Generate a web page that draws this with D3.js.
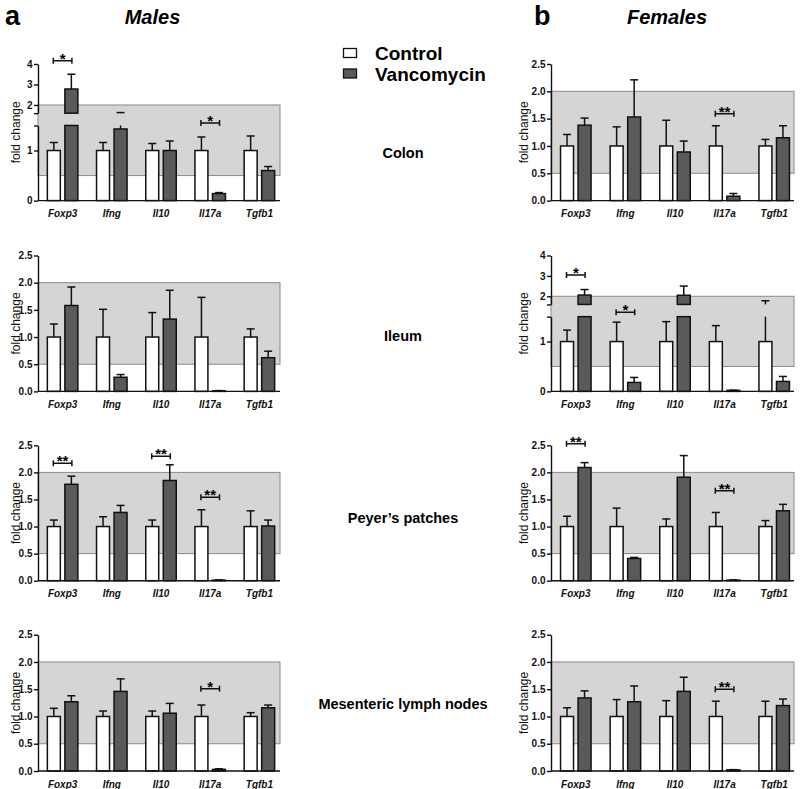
<!DOCTYPE html>
<html>
<head>
<meta charset="utf-8">
<script src="https://cdn.jsdelivr.net/npm/d3@7/dist/d3.min.js"></script>
<style>
  html, body { margin: 0; padding: 0; background: #fff; }
  svg { display: block; font-family: "Liberation Sans", Arial, sans-serif; }
</style>
</head>
<body>
<svg id="chart" width="800" height="789"></svg>
<script>
// ---------------- DATA ----------------
const genes = ["Foxp3", "Ifng", "Il10", "Il17a", "Tgfb1"];
const groups = ["Control", "Vancomycin"];
const sites = ["Colon", "Ileum", "Peyer\u2019s patches", "Mesenteric lymph nodes"];
const normalTicks = [0, 0.5, 1.0, 1.5, 2.0, 2.5];
const brokenLowerTicks = [0, 1];
const brokenUpperTicks = [2, 3, 4];

// Males
const maleColonControl    = [1, 1, 1, 1, 1];
const maleColonControlErr = [1.16, 1.16, 1.14, 1.27, 1.29];
const maleColonVanco      = [2.78, 1.43, 1.00, 0.14, 0.60];
const maleColonVancoErr   = [3.50, 1.63, 1.19, 0.16, 0.68];
const maleColonSig        = [["Foxp3", "*", 4.16], ["Il17a", "*", 1.52]];

const maleIleumControl    = [1, 1, 1, 1, 1];
const maleIleumControlErr = [1.24, 1.51, 1.45, 1.73, 1.15];
const maleIleumVanco      = [1.58, 0.26, 1.33, 0.01, 0.62];
const maleIleumVancoErr   = [1.92, 0.31, 1.86, 0.015, 0.74];
const maleIleumSig        = [];

const malePeyerControl    = [1, 1, 1, 1, 1];
const malePeyerControlErr = [1.12, 1.18, 1.12, 1.31, 1.29];
const malePeyerVanco      = [1.78, 1.26, 1.85, 0.01, 1.01];
const malePeyerVancoErr   = [1.93, 1.39, 2.14, 0.015, 1.12];
const malePeyerSig        = [["Foxp3", "**", 2.17], ["Il10", "**", 2.30], ["Il17a", "**", 1.54]];

const maleMlnControl      = [1, 1, 1, 1, 1];
const maleMlnControlErr   = [1.15, 1.10, 1.10, 1.21, 1.07];
const maleMlnVanco        = [1.27, 1.46, 1.06, 0.03, 1.16];
const maleMlnVancoErr     = [1.38, 1.69, 1.24, 0.04, 1.21];
const maleMlnSig          = [["Il17a", "*", 1.51]];

// Females
const femaleColonControl    = [1, 1, 1, 1, 1];
const femaleColonControlErr = [1.21, 1.35, 1.47, 1.37, 1.12];
const femaleColonVanco      = [1.38, 1.53, 0.89, 0.08, 1.15];
const femaleColonVancoErr   = [1.51, 2.21, 1.09, 0.13, 1.37];
const femaleColonSig        = [["Il17a", "**", 1.59]];

const femaleIleumControl    = [1, 1, 1, 1, 1];
const femaleIleumControlErr = [1.23, 1.39, 1.40, 1.32, 1.78];
const femaleIleumVanco      = [2.06, 0.18, 2.05, 0.02, 0.20];
const femaleIleumVancoErr   = [2.33, 0.28, 2.50, 0.025, 0.30];
const femaleIleumSig        = [["Foxp3", "*", 3.04], ["Ifng", "*", 1.535]];

const femalePeyerControl    = [1, 1, 1, 1, 1];
const femalePeyerControlErr = [1.19, 1.34, 1.14, 1.26, 1.11];
const femalePeyerVanco      = [2.09, 0.41, 1.91, 0.01, 1.29];
const femalePeyerVancoErr   = [2.18, 0.43, 2.31, 0.015, 1.41];
const femalePeyerSig        = [["Foxp3", "**", 2.53], ["Il17a", "**", 1.66]];

const femaleMlnControl      = [1, 1, 1, 1, 1];
const femaleMlnControlErr   = [1.16, 1.31, 1.29, 1.28, 1.28];
const femaleMlnVanco        = [1.34, 1.27, 1.46, 0.02, 1.20];
const femaleMlnVancoErr     = [1.47, 1.56, 1.72, 0.025, 1.32];
const femaleMlnSig          = [["Il17a", "**", 1.50]];

const panels = [
  {col: 0, row: 0, broken: true,  c: maleColonControl, ce: maleColonControlErr, v: maleColonVanco, ve: maleColonVancoErr, sig: maleColonSig},
  {col: 0, row: 1, broken: false, c: maleIleumControl, ce: maleIleumControlErr, v: maleIleumVanco, ve: maleIleumVancoErr, sig: maleIleumSig},
  {col: 0, row: 2, broken: false, c: malePeyerControl, ce: malePeyerControlErr, v: malePeyerVanco, ve: malePeyerVancoErr, sig: malePeyerSig},
  {col: 0, row: 3, broken: false, c: maleMlnControl, ce: maleMlnControlErr, v: maleMlnVanco, ve: maleMlnVancoErr, sig: maleMlnSig},
  {col: 1, row: 0, broken: false, c: femaleColonControl, ce: femaleColonControlErr, v: femaleColonVanco, ve: femaleColonVancoErr, sig: femaleColonSig},
  {col: 1, row: 1, broken: true,  c: femaleIleumControl, ce: femaleIleumControlErr, v: femaleIleumVanco, ve: femaleIleumVancoErr, sig: femaleIleumSig},
  {col: 1, row: 2, broken: false, c: femalePeyerControl, ce: femalePeyerControlErr, v: femalePeyerVanco, ve: femalePeyerVancoErr, sig: femalePeyerSig},
  {col: 1, row: 3, broken: false, c: femaleMlnControl, ce: femaleMlnControlErr, v: femaleMlnVanco, ve: femaleMlnVancoErr, sig: femaleMlnSig}
];

// ---------------- LAYOUT ----------------
const rowTop    = [64, 255.5, 445.3, 634.7];
const rowBottom = [200.6, 391.4, 580.7, 771];
const colAxisX  = [38, 551];
const colRight  = [280, 794];
const colBandEnd = [284, 799];
const colTitleX = [15.5, 524];
const siteLabelY = [158, 341, 523, 709];

const COL_CTRL = "#ffffff";
const COL_VANC = "#5a5a5a";
const COL_BAND = "#d5d5d5";
const COL_BAND_STROKE = "#8a8a8a";

const svg = d3.select("#chart");

// Titles
svg.append("text").attr("x", 5).attr("y", 25).attr("font-size", 27).attr("font-weight", "bold").text("a");
svg.append("text").attr("x", 534).attr("y", 25).attr("font-size", 27).attr("font-weight", "bold").text("b");
svg.append("text").attr("x", 152.5).attr("y", 24).attr("text-anchor", "middle").attr("font-size", 20)
  .attr("font-weight", "bold").attr("font-style", "italic").text("Males");
svg.append("text").attr("x", 667).attr("y", 24).attr("text-anchor", "middle").attr("font-size", 20)
  .attr("font-weight", "bold").attr("font-style", "italic").text("Females");

// Legend
const legendY = [53, 73.5];
groups.forEach((g, i) => {
  svg.append("rect").attr("x", 343.5).attr("y", legendY[i] - 4.5).attr("width", 13).attr("height", 9)
    .attr("fill", i === 0 ? COL_CTRL : COL_VANC).attr("stroke", "#111").attr("stroke-width", 1.3);
  svg.append("text").attr("x", 375).attr("y", legendY[i] + 7).attr("font-size", 19)
    .attr("font-weight", "bold").text(g);
});

// Site labels
sites.forEach((s, i) => {
  svg.append("text").attr("x", 403).attr("y", siteLabelY[i]).attr("text-anchor", "middle")
    .attr("font-size", 14.5).attr("font-weight", "bold").text(s);
});

// ---------------- PANELS ----------------
function makeY(p) {
  const top = rowTop[p.row], bottom = rowBottom[p.row];
  if (!p.broken) {
    const s = d3.scaleLinear().domain([0, 2.5]).range([bottom, top]);
    return {f: v => s(v), segs: [{lo: 0, hi: 2.5, s}]};
  }
  const H = bottom - top;
  const lower = d3.scaleLinear().domain([0, 1.5]).range([bottom, bottom - 0.55 * H]);
  const upper = d3.scaleLinear().domain([1.6, 4]).range([bottom - 0.64 * H, top]);
  const f = v => v <= 1.5 ? lower(v) : (v >= 1.6 ? upper(v) :
    lower(1.5) + (v - 1.5) / 0.1 * (upper(1.6) - lower(1.5)));
  return {f, segs: [{lo: 0, hi: 1.5, s: lower}, {lo: 1.6, hi: 4, s: upper}]};
}

panels.forEach(p => {
  const g = svg.append("g");
  const axisX = colAxisX[p.col], rightX = colRight[p.col];
  const x = d3.scaleBand().domain(genes).range([axisX, colBandEnd[p.col]]).padding(0);
  const x1 = d3.scaleBand().domain(groups).range([-15.25, 15.25]).paddingInner(0.26);
  const Y = makeY(p);

  // grey reference band 0.5 .. 2
  g.append("rect").attr("x", axisX).attr("y", Y.f(2)).attr("width", rightX - axisX)
    .attr("height", Y.f(0.5) - Y.f(2)).attr("fill", COL_BAND)
    .attr("stroke", COL_BAND_STROKE).attr("stroke-width", 1);

  // bars
  genes.forEach((gene, i) => {
    const cx = x(gene) + x.bandwidth() / 2;
    [[p.c[i], p.ce[i], "Control", COL_CTRL], [p.v[i], p.ve[i], "Vancomycin", COL_VANC]].forEach(([val, err, grp, fill]) => {
      const bx = cx + x1(grp);
      const bw = x1.bandwidth();
      Y.segs.forEach(seg => {
        if (val > seg.lo) {
          const y1 = seg.s(Math.min(val, seg.hi));
          const y0 = seg.s(seg.lo);
          g.append("rect").attr("x", bx).attr("y", y1).attr("width", bw).attr("height", Math.max(0.3, y0 - y1))
            .attr("fill", fill).attr("stroke", "#111").attr("stroke-width", 1.5);
        }
      });
      // error whisker (upper only)
      const mx = bx + bw / 2;
      Y.segs.forEach(seg => {
        const a = Math.max(val, seg.lo), b = Math.min(err, seg.hi);
        if (b > a) {
          g.append("line").attr("x1", mx).attr("x2", mx).attr("y1", seg.s(a)).attr("y2", seg.s(b))
            .attr("stroke", "#111").attr("stroke-width", 1.5);
        }
      });
      g.append("line").attr("x1", mx - 4).attr("x2", mx + 4).attr("y1", Y.f(err)).attr("y2", Y.f(err))
        .attr("stroke", "#111").attr("stroke-width", 1.5);
    });
  });

  // significance brackets
  p.sig.forEach(([gene, label, yv]) => {
    const cx = x(gene) + x.bandwidth() / 2;
    const yy = Y.f(yv);
    const hw = 9.3;
    g.append("path").attr("d", `M${cx - hw},${yy - 3}V${yy + 3}M${cx - hw},${yy}H${cx + hw}M${cx + hw},${yy - 3}V${yy + 3}`)
      .attr("fill", "none").attr("stroke", "#111").attr("stroke-width", 1.5);
    g.append("text").attr("x", cx).attr("y", yy + 3).attr("text-anchor", "middle")
      .attr("font-size", 15).attr("font-weight", "bold").text(label);
  });

  // y axis
  const styleAxis = sel => {
    sel.select(".domain").attr("stroke", "#111").attr("stroke-width", 1.4);
    sel.selectAll(".tick line").attr("stroke", "#111").attr("stroke-width", 1.4);
    sel.selectAll(".tick text").attr("font-size", 10).attr("font-weight", "bold")
      .attr("font-family", "Liberation Sans, Arial, sans-serif").attr("fill", "#111");
  };
  if (!p.broken) {
    g.append("g").attr("transform", `translate(${axisX},0)`)
      .call(d3.axisLeft(Y.segs[0].s).tickValues(normalTicks).tickFormat(d3.format(".1f"))
        .tickSize(4).tickSizeOuter(0).tickPadding(1.5))
      .call(styleAxis);
  } else {
    g.append("g").attr("transform", `translate(${axisX},0)`)
      .call(d3.axisLeft(Y.segs[0].s).tickValues(brokenLowerTicks.concat([1.5]))
        .tickFormat(d => d === 1.5 ? "" : d3.format("d")(d)).tickSize(4).tickSizeOuter(0).tickPadding(1.5))
      .call(styleAxis);
    g.append("g").attr("transform", `translate(${axisX},0)`)
      .call(d3.axisLeft(Y.segs[1].s).tickValues([1.6].concat(brokenUpperTicks))
        .tickFormat(d => d === 1.6 ? "" : d3.format("d")(d)).tickSize(4).tickSizeOuter(0).tickPadding(1.5))
      .call(styleAxis);
  }

  // x axis baseline + labels
  g.append("line").attr("x1", axisX).attr("x2", rightX).attr("y1", Y.f(0)).attr("y2", Y.f(0))
    .attr("stroke", "#111").attr("stroke-width", 1.4);
  const xa = g.append("g").attr("transform", `translate(0,${Y.f(0)})`)
    .call(d3.axisBottom(x).tickSize(0).tickPadding(9.5));
  xa.select(".domain").remove();
  xa.selectAll(".tick text").attr("font-size", 10).attr("font-weight", "bold").attr("font-style", "italic")
    .attr("font-family", "Liberation Sans, Arial, sans-serif").attr("fill", "#111");

  // y title
  const midY = (rowTop[p.row] + rowBottom[p.row]) / 2;
  g.append("text").attr("transform", `translate(${colTitleX[p.col]},${midY}) rotate(-90)`)
    .attr("text-anchor", "middle").attr("dy", "0.35em").attr("font-size", 12).attr("fill", "#111")
    .text("fold change");
});
</script>
</body>
</html>
